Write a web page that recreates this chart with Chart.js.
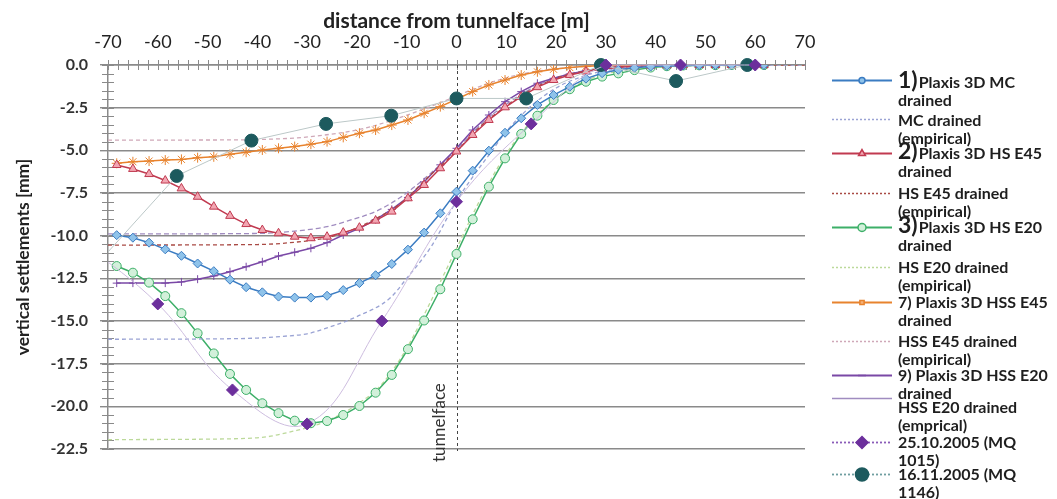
<!DOCTYPE html>
<html>
<head>
<meta charset="utf-8">
<script src="https://cdn.jsdelivr.net/npm/chart.js@4.4.1/dist/chart.umd.min.js"></script>
<style>
  html, body { margin: 0; padding: 0; background: #fff; }
  #wrap { width: 1057px; height: 499px; }
</style>
</head>
<body>
<div id="wrap"><canvas id="c" width="1057" height="499"></canvas></div>
<script>
// Plaxis stations (m from tunnelface)
const stations = [-68.25, -65, -61.75, -58.5, -55.25, -52, -48.75, -45.5, -42.25, -39, -35.75,
  -32.5, -29.25, -26, -22.75, -19.5, -16.25, -13, -9.75, -6.5, -3.25, 0, 3.25, 6.5, 9.75, 13,
  16.25, 19.5, 22.75, 26, 29.25, 32.5, 35.75, 39, 42.25, 45.5, 48.75, 52, 55.25, 58.5, 61.75];

const mcDrained = [-9.97, -10.12, -10.41, -10.80, -11.18, -11.63, -12.08, -12.58, -13.02, -13.32, -13.57,
  -13.63, -13.63, -13.52, -13.19, -12.78, -12.32, -11.66, -10.82, -9.82, -8.69,
  -7.42, -6.19, -5.02, -3.97, -3.12, -2.34, -1.76, -1.27, -0.8, -0.48,
  -0.28, -0.16, -0.09, -0.05, -0.03, -0.01, 0, 0, 0, 0];
const hsE45 = [-5.86, -6.09, -6.39, -6.77, -7.23, -7.72, -8.30, -8.84, -9.32, -9.67, -9.86,
  -10.06, -10.15, -10.06, -9.82, -9.53, -9.12, -8.59, -7.81, -7.03, -6.05,
  -5.07, -4.10, -3.22, -2.48, -1.86, -1.30, -0.88, -0.59, -0.38, -0.24,
  -0.14, -0.08, -0.04, -0.02, -0.01, 0, 0, 0, 0, 0];
const hsE20 = [-11.78, -12.17, -12.75, -13.54, -14.54, -15.72, -16.90, -18.10, -19.04, -19.82, -20.40,
  -20.84, -20.99, -20.86, -20.51, -19.98, -19.20, -18.16, -16.65, -14.97, -13.14,
  -11.07, -9.04, -7.13, -5.47, -4.04, -2.97, -2.05, -1.42, -0.98, -0.68,
  -0.49, -0.3, -0.15, -0.07, -0.03, -0.02, -0.01, 0, 0, 0];
const hssE45 = [-5.76, -5.67, -5.63, -5.57, -5.53, -5.43, -5.38, -5.23, -5.11, -4.98, -4.88,
  -4.78, -4.64, -4.49, -4.24, -4.00, -3.81, -3.52, -3.22, -2.83, -2.44,
  -2.01, -1.56, -1.17, -0.88, -0.59, -0.4, -0.25, -0.15, -0.08, -0.04,
  -0.02, -0.01, 0, 0, 0, 0, 0, 0, 0, 0];
const hssE20 = [-12.78, -12.78, -12.78, -12.78, -12.71, -12.55, -12.36, -12.11, -11.82, -11.53, -11.19,
  -10.97, -10.74, -10.41, -9.96, -9.57, -9.06, -8.46, -7.76, -6.85, -5.85,
  -4.88, -3.81, -2.93, -2.15, -1.56, -1.07, -0.78, -0.52, -0.33, -0.2,
  -0.11, -0.06, -0.03, -0.01, 0, 0, 0, 0, 0, 0];

// empirical curves
const mcEmpX = [-70, -50, -40, -35, -30, -27, -20, -13.4, -10, -5, 0, 3.3, 6.5, 10, 15, 20, 25, 30, 40, 70];
const mcEmpY = [-16.07, -16.05, -16.0, -15.9, -15.75, -15.5, -14.74, -13.67, -12.5, -10.6, -7.97, -6.54, -5.28, -3.9, -2.4, -1.35, -0.7, -0.33, -0.08, 0];
const e45X = [-70, -40, -32, -26, -22, -16, -11, -6, 0, 5, 10, 15, 20, 25, 30, 40, 70];
const hsE45EmpY = [-10.55, -10.52, -10.37, -10.12, -9.77, -8.97, -8.06, -6.65, -5.05, -3.55, -2.4, -1.45, -0.78, -0.4, -0.18, -0.04, 0];
const hssE20EmpY = [-9.9, -9.87, -9.72, -9.47, -9.15, -8.55, -7.7, -6.55, -4.95, -3.45, -2.3, -1.38, -0.75, -0.38, -0.17, -0.03, 0];
const hsE20EmpX = [-70, -45, -38, -33, -29, -25, -20, -15, -10, -5, 0, 5, 10, 15, 20, 25, 30, 40, 70];
const hsE20EmpY = [-21.95, -21.9, -21.78, -21.47, -21.18, -20.72, -19.9, -18.7, -16.6, -13.75, -10.75, -7.75, -5.2, -3.3, -1.95, -1.05, -0.52, -0.13, 0];
const hssE45EmpX = [-70, -45, -38, -32, -27, -22, -17, -12, -6, 0, 5, 10, 15, 20, 30, 70];
const hssE45EmpY = [-4.4, -4.39, -4.35, -4.27, -4.12, -3.92, -3.6, -3.14, -2.52, -1.82, -1.22, -0.75, -0.42, -0.22, -0.06, 0];

// measurements
const mq1015X = [-75, -60, -45, -30, -15, 0, 15, 30, 45, 60];
const mq1015Y = [-10.4, -14.0, -19.04, -21.03, -15.0, -8.01, -3.45, 0, 0, 0];
const mq1146X = [-72, -56.2, -41.2, -26.2, -13.1, 0, 14, 29, 44.1, 58.4];
const mq1146Y = [-11.6, -6.5, -4.43, -3.45, -2.97, -1.96, -1.96, 0, -0.94, 0];

const xTicks = { min: -70, max: 70, step: 10 };
const yTicks = { min: -22.5, max: 0, step: 2.5 };

const pts = (xs, ys) => xs.map((x, i) => ({ x, y: ys[i] }));

function plaxis(text, ys, color, style, fill, radius, legendPoint, legendRadius) {
    return {
        legendText: text,
        data: pts(stations, ys),
        borderColor: color,
        borderWidth: 1.5,
        pointStyle: style,
        pointRadius: radius,
        pointBackgroundColor: fill,
        pointBorderColor: color,
        pointBorderWidth: 1,
        legendPoint, legendRadius,
        order: 1
    };
}

function empirical(text, xs, ys, color, dash, legendDash) {
    return {
        legendText: text,
        data: pts(xs, ys),
        borderColor: color,
        borderWidth: 1.3,
        borderDash: dash,
        legendDash: legendDash || [2, 2],
        pointRadius: 0,
        cubicInterpolationMode: 'monotone',
        order: 1
    };
}

const datasets = [
    plaxis(['1)Plaxis 3D MC', 'drained'], mcDrained, '#3b7cc2', 'rectRot', '#8fc3ea', 4.5, 'circle', 3),
    empirical(['MC drained', '(empirical)'], mcEmpX, mcEmpY, '#9aa3d4', [4, 3]),
    plaxis(['2)Plaxis 3D HS E45', 'drained'], hsE45, '#c13a50', 'triangle', '#f2a6b2', 5, 'triangle', 4),
    empirical(['HS E45 drained', '(empirical)'], e45X, hsE45EmpY, '#a94a44', [4, 3]),
    plaxis(['3)Plaxis 3D HS E20', 'drained'], hsE20, '#3daf68', 'circle', '#d2f0da', 4.5, 'circle', 4),
    empirical(['HS E20 drained', '(empirical)'], hsE20EmpX, hsE20EmpY, '#bcd99a', [4, 3]),
    plaxis(['7) Plaxis 3D HSS E45', 'drained'], hssE45, '#e8832e', 'star', '#f4b27a', 5, 'rect', 3),
    empirical(['HSS E45 drained', '(empirical)'], hssE45EmpX, hssE45EmpY, '#cfa8b8', [4, 3]),
    plaxis(['9) Plaxis 3D HSS E20', 'drained'], hssE20, '#7a48a6', 'cross', '#7a48a6', 4, 'line', 4),
    empirical(['HSS E20 drained', '(emprical)'], e45X, hssE20EmpY, '#a08cc0', [5, 3], []),
    {
        legendText: ['25.10.2005 (MQ', '1015)'],
        data: pts(mq1015X, mq1015Y),
        borderColor: '#cdbddf', borderWidth: 1, tension: 0.4,
        legendColor: '#8a5cb8', legendDash: [2, 2],
        pointStyle: 'rectRot', pointRadius: 6,
        pointBackgroundColor: '#6c2f9c', pointBorderColor: '#6c2f9c', pointBorderWidth: 1,
        legendPoint: 'rectRot', legendRadius: 6,
        clip: { left: 0, top: 8, right: 8, bottom: 8 },
        order: 0
    },
    {
        legendText: ['16.11.2005 (MQ', '1146)'],
        data: pts(mq1146X, mq1146Y),
        borderColor: '#bcc8c8', borderWidth: 1,
        legendColor: '#6f9ea0', legendDash: [2, 2],
        pointStyle: 'circle', pointRadius: 6.5,
        pointBackgroundColor: '#1d5a5e', pointBorderColor: '#1d5a5e', pointBorderWidth: 1,
        legendPoint: 'circle', legendRadius: 6.5,
        clip: { left: 0, top: 8, right: 8, bottom: 8 },
        order: 0
    }
];

/* ---------- axis decoration: minor ticks + tunnelface ---------- */
const axisDeco = {
    id: 'axisDeco',
    beforeDatasetsDraw(chart) {
        const { ctx, chartArea: a, scales: { x, y } } = chart;
        ctx.save();
        ctx.strokeStyle = '#8a8a8a';
        ctx.lineWidth = 1;
        ctx.beginPath();
        for (let v = xTicks.min; v <= xTicks.max; v += 2) {
            const px = Math.round(x.getPixelForValue(v)) + 0.5;
            ctx.moveTo(px, a.top - 5);
            ctx.lineTo(px, a.top + 5);
        }
        for (let v = yTicks.max; v >= yTicks.min; v -= 0.5) {
            const py = Math.round(y.getPixelForValue(v)) + 0.5;
            ctx.moveTo(a.left - 6, py);
            ctx.lineTo(a.left + 6, py);
        }
        ctx.stroke();

        // tunnelface marker
        const x0 = Math.round(x.getPixelForValue(0)) + 0.5;
        ctx.strokeStyle = '#444';
        ctx.setLineDash([3, 3]);
        ctx.beginPath();
        ctx.moveTo(x0, a.top);
        ctx.lineTo(x0, a.bottom + 2);
        ctx.stroke();
        ctx.setLineDash([]);
        ctx.translate(x0 - 18, a.bottom + 13);
        ctx.rotate(-Math.PI / 2);
        ctx.fillStyle = '#333';
        ctx.font = '17px Lato';
        ctx.textBaseline = 'middle';
        ctx.textAlign = 'left';
        ctx.fillText('tunnelface', 0, 0);
        ctx.restore();
    }
};

/* ---------- side legend with wrapped labels ---------- */
function drawMarker(ctx, style, r, cx, cy) {
    if (Chart.helpers && Chart.helpers.drawPoint) {
        Chart.helpers.drawPoint(ctx, { pointStyle: style, radius: r, borderWidth: 1, rotation: 0 }, cx, cy);
    } else {
        ctx.beginPath();
        ctx.arc(cx, cy, r, 0, Math.PI * 2);
        ctx.fill();
        ctx.stroke();
    }
}

const sideLegend = {
    id: 'sideLegend',
    afterDraw(chart) {
        const { ctx } = chart;
        // [swatch y, first text line y]
        const rows = [[80, 82], [119, 120], [153, 153], [193, 193], [227, 227], [267, 267],
            [302, 302], [341, 341], [375, 375], [398, 407], [442, 442], [474, 474]];
        chart.data.datasets.forEach((ds, i) => {
            const [ly, ty] = rows[i];
            ctx.save();
            ctx.strokeStyle = ds.legendColor || ds.borderColor;
            ctx.lineWidth = ds.legendPoint ? 1.8 : 1.5;
            ctx.setLineDash(ds.legendDash || []);
            ctx.beginPath();
            ctx.moveTo(832, ly + 0.5);
            ctx.lineTo(892, ly + 0.5);
            ctx.stroke();
            ctx.setLineDash([]);
            if (ds.legendPoint) {
                ctx.fillStyle = ds.pointBackgroundColor;
                ctx.strokeStyle = ds.pointBorderColor;
                ctx.lineWidth = 1.5;
                drawMarker(ctx, ds.legendPoint, ds.legendRadius, 862, ly + 0.5);
            }
            ctx.fillStyle = '#1e1e1e';
            ctx.textBaseline = 'middle';
            ctx.textAlign = 'left';
            ds.legendText.forEach((line, j) => {
                let tx = 898;
                const tyy = ty + j * 18;
                const m = line.match(/^(\d\))(\S.*)$/);
                if (m) {
                    ctx.font = 'bold 23px Lato';
                    ctx.fillText(m[1], tx, tyy - 1);
                    tx += ctx.measureText(m[1]).width + 1;
                    line = m[2];
                }
                ctx.font = 'bold 16px Lato';
                ctx.fillText(line, tx, tyy + 1);
            });
            ctx.restore();
        });
    }
};

new Chart(document.getElementById('c').getContext('2d'), {
    type: 'line',
    data: { datasets },
    options: {
        responsive: false,
        animation: false,
        events: [],
        layout: { padding: { left: 9, top: 5, right: 252, bottom: 50 } },
        plugins: { legend: { display: false }, tooltip: { enabled: false } },
        scales: {
            x: {
                type: 'linear',
                position: 'top',
                min: xTicks.min,
                max: xTicks.max,
                afterFit(s) { s.height = 60; },
                grid: { display: false, drawTicks: false },
                border: { display: true, color: '#8a8a8a', width: 1.5 },
                ticks: {
                    stepSize: xTicks.step, padding: 12, color: '#222', maxRotation: 0, autoSkip: false,
                    font: { family: 'Lato', size: 18 }
                },
                title: {
                    display: true, text: 'distance from tunnelface [m]', color: '#222',
                    font: { family: 'Lato', size: 21, weight: 'bold' }
                }
            },
            y: {
                min: yTicks.min,
                max: yTicks.max,
                afterFit(s) { s.width = 99; },
                grid: { color: '#8a8a8a', lineWidth: 1.4, drawTicks: true, tickLength: 8, tickColor: '#8a8a8a' },
                border: { display: true, color: '#8a8a8a', width: 1.5 },
                ticks: {
                    stepSize: yTicks.step, padding: 12, color: '#333',
                    font: { family: 'Lato', size: 16, weight: 'bold' },
                    callback: v => v.toFixed(1)
                },
                title: {
                    display: true, text: 'vertical settlements [mm]', color: '#222',
                    font: { family: 'Lato', size: 17.5, weight: 'bold' }
                }
            }
        }
    },
    plugins: [axisDeco, sideLegend]
});
</script>
</body>
</html>
